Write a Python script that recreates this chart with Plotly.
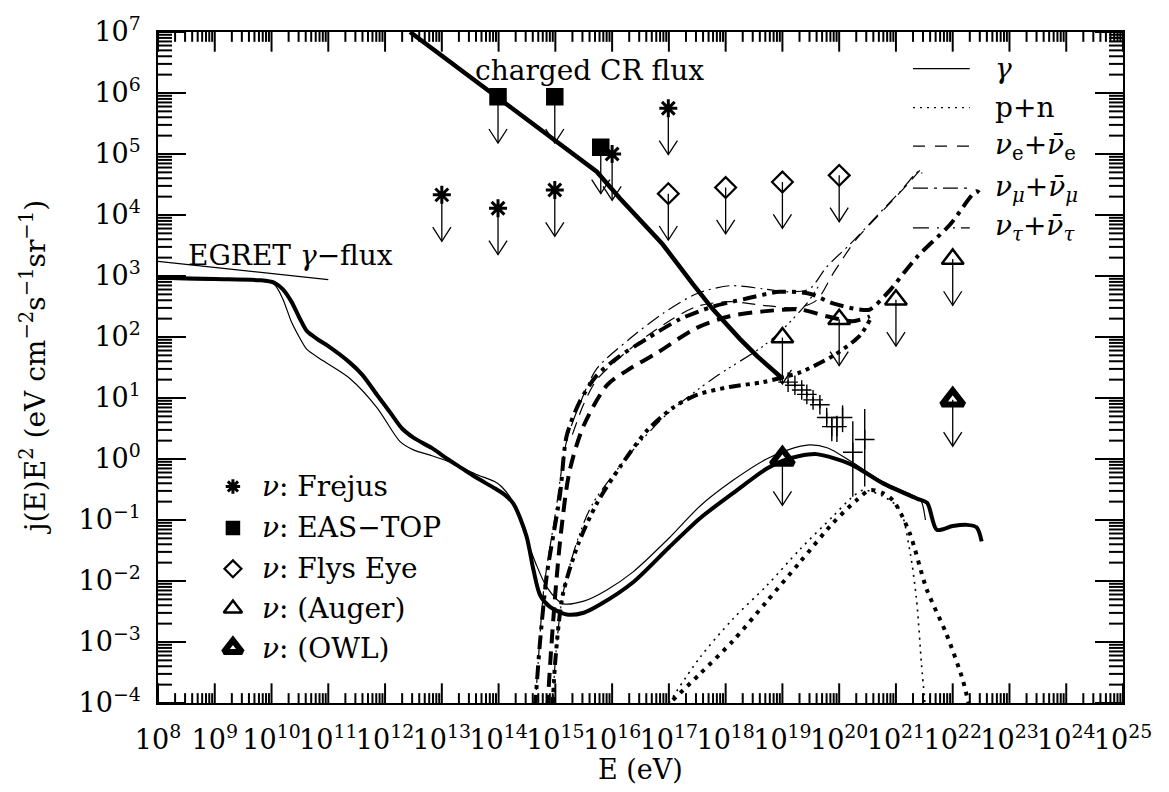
import numpy as np
import plotly.graph_objects as go

FONT = "DejaVu Serif, Liberation Serif, serif"

# ---------------------------------------------------------------------------
# Spectra: log10(E / eV) and log10(j(E) E^2 / eV cm^-2 s^-1 sr^-1)
# ---------------------------------------------------------------------------
# gamma-ray flux, model A (thick) and model B (thin)
gam_a_lgE = [8.0, 9.0, 9.8, 10.05, 10.2, 10.35, 10.5, 10.62, 10.8, 11.0, 11.38, 11.6, 11.86,
             12.1, 12.3, 12.5, 12.84, 13.1, 13.35, 13.6, 13.93, 14.1, 14.26, 14.49, 14.61,
             14.73, 14.9, 15.2, 15.5, 15.78, 16.37, 17.0, 17.55, 18.13, 18.72, 19.0, 19.3,
             19.6, 20.19, 20.77, 21.37, 21.55, 21.72, 22.0, 22.25, 22.42, 22.51]
gam_a_lgF = [2.97, 2.95, 2.93, 2.89, 2.78, 2.58, 2.30, 2.10, 1.97, 1.85, 1.58, 1.38, 1.05,
             0.75, 0.50, 0.35, 0.17, 0.0, -0.15, -0.30, -0.48, -0.58, -0.73, -1.26, -1.80,
             -2.23, -2.42, -2.55, -2.52, -2.39, -2.02, -1.45, -0.97, -0.56, -0.16, -0.03, 0.05,
             0.08, -0.08, -0.40, -0.65, -0.72, -1.16, -1.10, -1.08, -1.12, -1.35]
gam_b_lgE = [8.0, 9.0, 9.8, 10.05, 10.2, 10.35, 10.5, 10.62, 10.91, 11.38, 11.86, 12.26, 12.5,
             12.84, 13.14, 13.32, 13.6, 13.93, 14.05, 14.25, 14.45, 14.65, 14.85, 15.13, 15.5,
             15.9, 16.37, 17.0, 17.55, 18.13, 18.72, 19.1, 19.48, 19.8, 20.19, 20.77, 21.37,
             21.45, 21.52]
gam_b_lgF = [2.95, 2.93, 2.92, 2.86, 2.62, 2.25, 1.98, 1.80, 1.61, 1.32, 0.84, 0.29, 0.15,
             0.05, -0.05, -0.13, -0.25, -0.37, -0.45, -0.70, -1.20, -1.70, -2.10, -2.37, -2.33,
             -2.15, -1.85, -1.30, -0.77, -0.35, 0.0, 0.15, 0.23, 0.18, -0.03, -0.37, -0.63,
             -0.70, -1.0]

# nucleons (p+n)
pn_a_lgE = [17.07, 17.55, 18.13, 18.72, 19.31, 19.89, 20.3, 20.54, 20.75, 20.95, 21.24, 21.54,
            21.89, 22.18, 22.3]
pn_a_lgF = [-3.95, -3.52, -2.98, -2.34, -1.69, -1.05, -0.68, -0.51, -0.55, -0.68, -1.21, -2.13,
            -2.87, -3.63, -4.1]
pn_b_lgE = [17.0, 17.55, 18.13, 18.72, 19.31, 19.89, 20.2, 20.42, 20.77, 21.07, 21.24, 21.36,
            21.45, 21.52]
pn_b_lgF = [-4.0, -3.25, -2.62, -2.08, -1.48, -0.94, -0.65, -0.51, -0.61, -0.83, -1.48, -2.28,
            -3.36, -4.1]

# electron neutrinos
nue_a_lgE = [14.86, 14.92, 15.0, 15.1, 15.25, 15.5, 15.91, 16.26, 16.79, 17.49, 18.07, 18.66,
             19.31, 19.78, 20.24, 20.54]
nue_a_lgF = [-4.1, -3.2, -2.2, -1.2, -0.2, 0.55, 1.21, 1.45, 1.74, 2.15, 2.34, 2.42, 2.45,
             2.34, 2.26, 2.34]
nue_b_lgE = [15.3, 15.5, 15.73, 16.31, 16.9, 17.49, 18.07, 18.66, 19.25, 19.6, 19.9, 20.3,
             20.8, 21.2, 21.42]
nue_b_lgF = [0.4, 0.9, 1.3, 1.8, 2.2, 2.5, 2.58, 2.52, 2.48, 2.6, 3.05, 3.6, 4.1, 4.5, 4.73]

# muon neutrinos
num_a_lgE = [14.64, 14.68, 14.73, 14.85, 15.08, 15.2, 15.43, 15.73, 16.14, 16.61, 17.19,
             17.78, 18.37, 18.95, 19.48, 19.89, 20.36, 20.54, 20.84, 21.37, 21.95, 22.42, 22.5]
num_a_lgF = [-4.1, -3.6, -3.0, -1.9, -0.6, 0.38, 0.94, 1.37, 1.69, 1.97, 2.29, 2.50, 2.63,
             2.74, 2.71, 2.55, 2.45, 2.45, 2.71, 3.31, 3.84, 4.39, 4.33]
num_b_lgE = [14.64, 14.7, 14.8, 15.0, 15.2, 15.43, 15.73, 16.31, 16.9, 17.49, 18.07, 18.66,
             19.13, 19.48, 19.78, 20.19, 20.66, 21.07, 21.42, 21.46]
num_b_lgF = [-4.1, -3.3, -2.1, -0.9, 0.3, 0.9, 1.48, 1.97, 2.39, 2.71, 2.84, 2.79, 2.74,
             2.79, 3.15, 3.52, 3.98, 4.38, 4.73, 4.68]

# tau neutrinos
nut_a_lgE = [14.95, 15.0, 15.13, 15.4, 15.73, 16.14, 16.61, 17.07, 17.49, 18.07, 18.66, 19.01,
             19.31, 19.89, 20.36, 20.54]
nut_a_lgF = [-4.1, -3.3, -2.23, -1.4, -0.73, -0.13, 0.46, 0.84, 1.05, 1.18, 1.26, 1.34,
             1.42, 1.69, 2.02, 2.28]
nut_b_lgE = [14.95, 15.0, 15.13, 15.4, 15.66, 16.31, 16.96, 17.78, 18.66, 19.01, 19.43,
             19.66]
nut_b_lgF = [-4.1, -3.3, -2.23, -1.3, -0.73, 0.08, 0.73, 1.32, 1.85, 2.13, 2.55, 2.87]

# charged cosmic ray flux
cr_lgE = [12.44, 14.02, 14.96, 15.73, 16.14, 16.89, 17.42, 17.78, 18.25, 18.55, 19.0]
cr_lgF = [7.0, 5.89, 5.24, 4.71, 4.27, 3.52, 2.87, 2.45, 1.97, 1.69, 1.32]

# highest-energy cosmic ray measurements with errors (dex)
uhe_lgE = [19.10, 19.22, 19.34, 19.43, 19.54, 19.66, 19.78, 19.87, 19.96, 20.06, 20.24, 20.45]
uhe_lgF = [1.26, 1.21, 1.13, 1.06, 0.97, 0.89, 0.68, 0.53, 0.53, 0.68, 0.11, 0.32]
uhe_err_up = [0.03, 0.03, 0.04, 0.04, 0.05, 0.06, 0.08, 0.15, 0.18, 0.2, 0.51, 0.5]
uhe_err_dn = [0.03, 0.03, 0.04, 0.04, 0.05, 0.06, 0.1, 0.24, 0.25, 0.24, 0.73, 0.77]

# EGRET diffuse gamma-ray flux
egret_lgE = [8.0, 11.0]
egret_lgF = [3.24, 2.94]

# neutrino upper limits
frejus_lgE = [13.0, 13.99, 14.99, 16.0, 16.99]
frejus_lgF = [4.33, 4.11, 4.41, 5.0, 5.75]
eastop_lgE = [13.99, 14.99, 15.80]
eastop_lgF = [5.94, 5.94, 5.11]
flyseye_lgE = [16.99, 18.0, 19.0, 20.0]
flyseye_lgF = [4.35, 4.45, 4.54, 4.65]
auger_lgE = [19.0, 20.0, 21.0, 22.0]
auger_lgF = [1.99, 2.29, 2.61, 3.28]
owl_lgE = [19.0, 22.0]
owl_lgF = [0.0, 0.97]

X_RANGE = (8, 25)
Y_RANGE = (-4, 7)
x_tick_exp = list(range(X_RANGE[0], X_RANGE[1] + 1))
y_tick_exp = list(range(Y_RANGE[0], Y_RANGE[1] + 1))

# ---------------------------------------------------------------------------
P = lambda a: [10.0 ** v for v in a]
fig = go.Figure()

# frame ticks on all four sides (major at decades, minor at 2..9), drawn as
# short segments whose length is fixed in pixels
W_PX, H_PX = 965.0, 682.0
px_per_dec_x = W_PX / (X_RANGE[1] - X_RANGE[0])
px_per_dec_y = H_PX / (Y_RANGE[1] - Y_RANGE[0])
for side in ("bottom", "top", "left", "right"):
    tx, ty = [], []
    exps = x_tick_exp if side in ("bottom", "top") else y_tick_exp
    last = X_RANGE[1] if side in ("bottom", "top") else Y_RANGE[1]
    for k in exps:
        for m in range(1, 10):
            if k == last and m > 1:
                break
            v = m * 10.0 ** k
            if side in ("bottom", "top"):
                d = (20 if m == 1 else 10) / px_per_dec_y
                y0 = Y_RANGE[0] if side == "bottom" else Y_RANGE[1]
                y1 = y0 + d if side == "bottom" else y0 - d
                tx += [v, v, None]
                ty += [10.0 ** y0, 10.0 ** y1, None]
            else:
                d = (28 if m == 1 else 14) / px_per_dec_x
                x0 = X_RANGE[0] if side == "left" else X_RANGE[1]
                x1 = x0 + d if side == "left" else x0 - d
                tx += [10.0 ** x0, 10.0 ** x1, None]
                ty += [v, v, None]
    fig.add_trace(go.Scatter(x=tx, y=ty, mode="lines",
                             line=dict(color="black", width=2.0, simplify=False),
                             connectgaps=False, showlegend=False, hoverinfo="skip"))


def curve(lgE, lgF, width, dash="solid", shape="spline"):
    fig.add_trace(go.Scatter(x=P(lgE), y=P(lgF), mode="lines",
                             line=dict(color="black", width=width, dash=dash,
                                       shape=shape, smoothing=0.8),
                             showlegend=False, hoverinfo="skip"))


THICK, THIN = 4.0, 1.2
D_DOT_K, D_DOT_T = "4px,6px", "2px,5px"
D_DASH_K, D_DASH_T = "14px,8px", "13px,8px"
D_DD_K, D_DD_T = "14px,6px,4px,6px", "14px,5px,2px,5px"
D_T_K = "12px,5px,4px,5px,4px,5px,4px,5px"
D_T_T = "14px,5px,2px,4px,2px,4px,2px,5px"

curve(egret_lgE, egret_lgF, 1.2, shape="linear")
curve(gam_b_lgE, gam_b_lgF, THIN)
curve(gam_a_lgE, gam_a_lgF, THICK)
curve(pn_b_lgE, pn_b_lgF, 1.6, D_DOT_T)
curve(pn_a_lgE, pn_a_lgF, THICK, D_DOT_K)
curve(nue_b_lgE, nue_b_lgF, THIN, D_DASH_T)
curve(nue_a_lgE, nue_a_lgF, THICK, D_DASH_K)
curve(num_b_lgE, num_b_lgF, THIN, D_DD_T)
curve(num_a_lgE, num_a_lgF, THICK, D_DD_K)
curve(nut_b_lgE, nut_b_lgF, THIN, D_T_T)
curve(nut_a_lgE, nut_a_lgF, THICK, D_T_K)
curve(cr_lgE, cr_lgF, 4.5, shape="linear")

# UHE cosmic ray points
fig.add_trace(go.Scatter(
    x=P(uhe_lgE), y=P(uhe_lgF), mode="markers",
    marker=dict(symbol="cross-thin", size=14, line=dict(color="black", width=1.4)),
    error_y=dict(type="data", symmetric=False,
                 array=[10 ** (f + u) - 10 ** f for f, u in zip(uhe_lgF, uhe_err_up)],
                 arrayminus=[10 ** f - 10 ** (f - d) for f, d in zip(uhe_lgF, uhe_err_dn)],
                 color="black", thickness=1.4, width=0),
    showlegend=False, hoverinfo="skip"))

# upper-limit arrows: stem of 0.76 dex, open V head
ARROW_LEN, HEAD_DX, HEAD_DY = 0.76, 0.16, 0.23
ax, ay = [], []
for lgE, lgF in zip(frejus_lgE + eastop_lgE + flyseye_lgE + auger_lgE + owl_lgE,
                    frejus_lgF + eastop_lgF + flyseye_lgF + auger_lgF + owl_lgF):
    tip = lgF - ARROW_LEN
    ax += [10 ** lgE, 10 ** lgE, None,
           10 ** (lgE - HEAD_DX), 10 ** lgE, 10 ** (lgE + HEAD_DX), None]
    ay += [10 ** lgF, 10 ** tip, None,
           10 ** (tip + HEAD_DY), 10 ** tip, 10 ** (tip + HEAD_DY), None]
fig.add_trace(go.Scatter(x=ax, y=ay, mode="lines", line=dict(color="black", width=1.3),
                         showlegend=False, hoverinfo="skip"))

MARK = {
    "frejus": dict(symbol="asterisk-open", size=15, color="black",
                   line=dict(color="black", width=3)),
    "eastop": dict(symbol="square", size=16, color="black",
                   line=dict(color="black", width=1.5)),
    "flyseye": dict(symbol="diamond-open", size=16, color="black",
                    line=dict(color="black", width=2.2)),
    "auger": dict(symbol="triangle-up-open", size=19, color="black",
                  line=dict(color="black", width=2.5)),
    "owl": dict(symbol="triangle-up-open", size=19, color="black",
                line=dict(color="black", width=6)),
}
for key, (xs, ys) in {"frejus": (frejus_lgE, frejus_lgF), "eastop": (eastop_lgE, eastop_lgF),
                      "flyseye": (flyseye_lgE, flyseye_lgF), "auger": (auger_lgE, auger_lgF),
                      "owl": (owl_lgE, owl_lgF)}.items():
    fig.add_trace(go.Scatter(x=P(xs), y=P(ys), mode="markers", marker=MARK[key],
                             showlegend=False, hoverinfo="skip", cliponaxis=False))

# ---------------------------------------------------------------------------
# hand-drawn keys
TXT = dict(family=FONT, size=28, color="black")
sym_rows = [("frejus", "<i>ν</i>: Frejus"), ("eastop", "<i>ν</i>: EAS−TOP"),
            ("flyseye", "<i>ν</i>: Flys Eye"), ("auger", "<i>ν</i>: (Auger)"),
            ("owl", "<i>ν</i>: (OWL)")]
row_lgF = [-0.45, -1.13, -1.80, -2.45, -3.10]
for (key, label), yy in zip(sym_rows, row_lgF):
    m = dict(MARK[key])
    m["size"] = m["size"] - 3
    fig.add_trace(go.Scatter(x=[10 ** 9.32], y=[10 ** yy], mode="markers", marker=m,
                             showlegend=False, hoverinfo="skip"))
    fig.add_annotation(x=9.80, y=yy, xref="x", yref="y", text=label, showarrow=False,
                       xanchor="left", yanchor="middle", font=TXT)

line_rows = [("<i>γ</i>", "solid"), ("p+n", "2px,5px"),
             ("<i>ν</i><sub>e</sub>+<i>ν̄</i><sub>e</sub>", "12px,10px"),
             ("<i>ν</i><sub><i>μ</i></sub>+<i>ν̄</i><sub><i>μ</i></sub>", "15px,6px,3px,6px"),
             ("<i>ν</i><sub><i>τ</i></sub>+<i>ν̄</i><sub><i>τ</i></sub>",
              "16px,8px,2px,6px,2px,6px,2px,6px")]
key_lgF = [6.40, 5.76, 5.13, 4.44, 3.79]
for (label, dash), yy in zip(line_rows, key_lgF):
    fig.add_trace(go.Scatter(x=[10 ** 21.30, 10 ** 22.30], y=[10 ** yy, 10 ** yy],
                             mode="lines", line=dict(color="black", width=1.2, dash=dash),
                             showlegend=False, hoverinfo="skip"))
    fig.add_annotation(x=22.71, y=yy, xref="x", yref="y", text=label, showarrow=False,
                       xanchor="left", yanchor="middle", font=TXT)

fig.add_annotation(x=13.55, y=6.37, xref="x", yref="y", text="charged CR flux",
                   showarrow=False, xanchor="left", yanchor="middle", font=TXT)
fig.add_annotation(x=8.49, y=3.34, xref="x", yref="y", text="EGRET <i>γ</i>−flux",
                   showarrow=False, xanchor="left", yanchor="middle", font=TXT)

fig.add_annotation(x=0.5, y=-0.125, xref="paper", yref="paper", text="E (eV)",
                   showarrow=False, font=dict(family=FONT, size=27, color="black"))
fig.add_annotation(x=-0.15, y=0.5, xref="paper", yref="paper", textangle=-90,
                   text="j(E)E<sup>2</sup> (eV cm<sup>−2</sup>s<sup>−1</sup>sr<sup>−1</sup>)",
                   showarrow=False, font=dict(family=FONT, size=28, color="black"))

# ---------------------------------------------------------------------------
AX = dict(type="log", showgrid=False, zeroline=False, showline=True, linecolor="black",
          linewidth=1.6, mirror=True, ticks="", tickmode="array",
          tickfont=dict(family=FONT, size=27, color="black"))
fig.update_xaxes(**AX, range=list(X_RANGE), tickvals=[10.0 ** e for e in x_tick_exp],
                 ticktext=["10<sup>%d</sup>" % e for e in x_tick_exp], tickangle=0,
                 ticklabelstandoff=12)
fig.update_yaxes(**AX, range=list(Y_RANGE), tickvals=[10.0 ** e for e in y_tick_exp],
                 ticktext=["10<sup>%s</sup>" % str(e).replace("-", "−") for e in y_tick_exp],
                 ticklabelstandoff=10)

fig.update_layout(width=1169, height=792, margin=dict(l=158, r=46, t=21, b=89),
                  paper_bgcolor="white", plot_bgcolor="white", showlegend=False)

fig.write_html("out.html")
